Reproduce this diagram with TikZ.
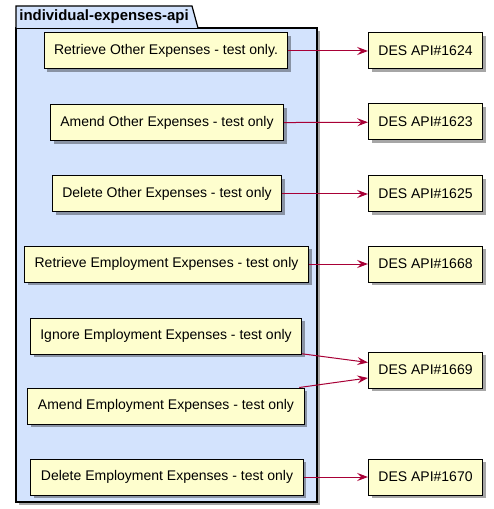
\documentclass[tikz,border=0pt]{standalone}
\usepackage{fontspec}
\setmainfont{Liberation Sans}
\usepackage{xcolor}
\usetikzlibrary{arrows.meta,shadows}
\definecolor{pkgblue}{HTML}{D3E3FD}
\definecolor{opyellow}{HTML}{FEFECE}
\definecolor{callred}{HTML}{A80036}
\tikzset{
  shade/.style={drop shadow={shadow xshift=2.5pt,shadow yshift=-2.5pt,opacity=0.35,fill=black}},
  op/.style={draw=black,fill=opyellow,line width=0.75pt,shade,font=\fontsize{10.5}{12}\selectfont,minimum height=27pt,inner xsep=7.5pt},
  desapi/.style={op},
  pkg/.style={draw=black,fill=pkgblue,line width=0.9pt},
  call/.style={-{Stealth[length=8pt,width=6pt,inset=3pt]},draw=callred,line width=0.75pt},
}

\begin{document}
\begin{tikzpicture}[x=0.75pt,y=-0.75pt]
  \useasboundingbox (0,0) rectangle (493,509);
  % package
  \draw[pkg,shade] (16,28) rectangle (317,502);
  \draw[pkg] (16,28) -- (16,6) -- (192,6) -- (198,28);
  \node[font=\bfseries\fontsize{11.2}{13}\selectfont] (pkgname) at (104,17) {individual-expenses-api};
  % endpoints
  \node[op] (retother) at (166,51) {Retrieve Other Expenses - test only.};
  \node[op] (amdother) at (167,123) {Amend Other Expenses - test only};
  \node[op] (delother) at (167,194) {Delete Other Expenses - test only};
  \node[op] (retemp) at (166.5,264) {Retrieve Employment Expenses - test only};
  \node[op] (ignemp) at (166,336) {Ignore Employment Expenses - test only};
  \node[op] (amdemp) at (166,406) {Amend Employment Expenses - test only};
  \node[op] (delemp) at (167,477) {Delete Employment Expenses - test only};
  % DES APIs
  \node[desapi] (des1624) at (425.5,51) {DES API\#1624};
  \node[desapi] (des1623) at (425.5,122) {DES API\#1623};
  \node[desapi] (des1625) at (425.5,194) {DES API\#1625};
  \node[desapi] (des1668) at (425.5,264) {DES API\#1668};
  \node[desapi] (des1669) at (425.5,370) {DES API\#1669};
  \node[desapi] (des1670) at (425.5,477) {DES API\#1670};
  % calls
  \draw[call] (retother) -- (des1624);
  \draw[call] (amdother) -- (des1623);
  \draw[call] (delother) -- (des1625);
  \draw[call] (retemp) -- (des1668);
  \draw[call] (ignemp) -- (des1669);
  \draw[call] (amdemp) -- (des1669);
  \draw[call] (delemp) -- (des1670);
\end{tikzpicture}
\end{document}
